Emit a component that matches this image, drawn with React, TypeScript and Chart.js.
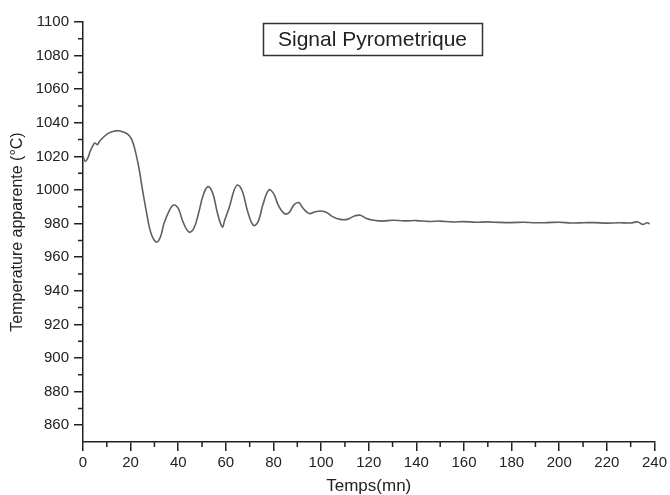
import React, { useEffect, useRef } from "react";
import { Chart, registerables } from "chart.js";

Chart.register(...registerables);

const chartTitle = "Signal Pyrometrique";
const xAxisTitle = "Temps(mn)";
const yAxisTitle = "Temperature apparente (°C)";

const xTickValues = [0, 20, 40, 60, 80, 100, 120, 140, 160, 180, 200, 220, 240];
const yTickValues = [860, 880, 900, 920, 940, 960, 980, 1000, 1020, 1040, 1060, 1080, 1100];

const times = [
  0, 1, 2, 3, 4, 5, 6, 7, 9, 11, 13, 15, 17, 19, 20.5, 22, 23.5, 25, 26.5, 28,
  29.5, 31, 32.5, 34, 36, 38, 40, 42, 44.5, 46.5, 48.5, 50.5, 52.5, 54.5, 56.5,
  58.5, 59.5, 61.5, 63.5, 65, 67, 69, 71.5, 73.5, 75.5, 78, 80, 82, 84.5, 86.5,
  88.5, 90.5, 92.5, 95, 97.5, 100, 102.5, 105, 108, 111, 114, 116.5, 119, 122,
  126, 130, 135, 140, 145, 150, 155, 160, 165, 170, 175, 180, 185, 190, 195,
  200, 205, 210, 215, 220, 225, 230, 233, 235, 237, 238,
];

const temps = [
  1020, 1017, 1019, 1023, 1026, 1028, 1027, 1029, 1032, 1034, 1035, 1035.3,
  1034.5, 1033, 1030, 1023, 1013, 1000, 988, 977, 971, 969, 972, 980, 987, 991,
  989, 981, 975, 977, 986, 997, 1002, 998, 986, 978, 982, 990, 1000, 1003, 999,
  988, 979, 981, 991, 1000, 998, 991, 986, 986.5, 991, 992.5, 989, 986, 987,
  987.5, 986.5, 984, 982.5, 982.5, 984.5, 985, 983, 982, 981.5, 982, 981.6,
  981.8, 981.3, 981.5, 981, 981.2, 980.8, 981, 980.7, 980.6, 980.8, 980.5,
  980.6, 980.8, 980.4, 980.5, 980.6, 980.3, 980.5, 980.4, 981, 979.5, 980.5,
  979.8,
];

const xMinorTicks = [10, 30, 50, 70, 90, 110, 130, 150, 170, 190, 210, 230];
const yMinorTicks = [870, 890, 910, 930, 950, 970, 990, 1010, 1030, 1050, 1070, 1090];

const FONT = "'Liberation Sans', Arial, sans-serif";
const INK = "#222";

const decorPlugin = {
  id: "decor",
  afterDraw(chart: any) {
    const ctx = chart.ctx;
    const xs = chart.scales.x;
    const ys = chart.scales.y;
    const area = chart.chartArea;
    ctx.save();
    ctx.strokeStyle = INK;
    ctx.lineWidth = 1.5;
    ctx.beginPath();
    xMinorTicks.forEach((v) => {
      const px = xs.getPixelForValue(v);
      ctx.moveTo(px, area.bottom);
      ctx.lineTo(px, area.bottom + 5);
    });
    yMinorTicks.forEach((v) => {
      const py = ys.getPixelForValue(v);
      ctx.moveTo(area.left, py);
      ctx.lineTo(area.left - 5, py);
    });
    ctx.stroke();
    // title box
    ctx.lineWidth = 1.5;
    ctx.strokeStyle = "#333";
    ctx.strokeRect(263.5, 23.5, 219, 32);
    ctx.fillStyle = INK;
    ctx.font = `21px ${FONT}`;
    ctx.textAlign = "center";
    ctx.textBaseline = "middle";
    ctx.fillText(chartTitle, 372.5, 40);
    ctx.restore();
  },
};

export default function App() {
  const canvasRef = useRef<HTMLCanvasElement | null>(null);

  useEffect(() => {
    document.body.style.margin = "0";
    document.body.style.background = "#fff";
    const canvas = canvasRef.current;
    if (!canvas) return;
    const chart = new Chart(canvas, {
      type: "line",
      data: {
        datasets: [
          {
            data: times.map((t, i) => ({ x: t, y: temps[i] })),
            borderColor: "#606060",
            borderWidth: 1.6,
            pointRadius: 0,
            tension: 0.4,
            fill: false,
          },
        ],
      },
      options: {
        animation: false,
        responsive: false,
        maintainAspectRatio: false,
        layout: { padding: { top: 22, right: 12, left: 0, bottom: 0 } },
        plugins: {
          legend: { display: false },
          tooltip: { enabled: false },
        },
        scales: {
          x: {
            type: "linear",
            min: 0,
            max: 240,
            afterBuildTicks: (s: any) => {
              s.ticks = xTickValues.map((v) => ({ value: v }));
            },
            afterFit: (s: any) => {
              s.height = 53;
            },
            border: { color: INK, width: 1.5 },
            grid: { drawOnChartArea: false, tickLength: 9, color: INK, lineWidth: 1.5 },
            ticks: {
              color: INK,
              font: { family: FONT, size: 15 },
              padding: 3,
              maxRotation: 0,
              autoSkip: false,
              callback: (v: any) => String(v),
            },
            title: {
              display: true,
              text: xAxisTitle,
              color: INK,
              font: { family: FONT, size: 17 },
              padding: { top: 0, bottom: -2 },
            },
          },
          y: {
            type: "linear",
            min: 850,
            max: 1100,
            afterBuildTicks: (s: any) => {
              s.ticks = yTickValues.map((v) => ({ value: v }));
            },
            afterFit: (s: any) => {
              s.width = 83;
            },
            border: { color: INK, width: 1.5 },
            grid: { drawOnChartArea: false, tickLength: 9, color: INK, lineWidth: 1.5 },
            ticks: {
              color: INK,
              font: { family: FONT, size: 15 },
              padding: 5,
              autoSkip: false,
              callback: (v: any) => String(v),
            },
            title: {
              display: true,
              text: yAxisTitle,
              color: INK,
              font: { family: FONT, size: 16 },
              padding: { top: 8, bottom: 0 },
            },
          },
        },
      },
      plugins: [decorPlugin],
    });
    return () => chart.destroy();
  }, []);

  return (
    <div style={{ width: 670, height: 495, background: "#fff" }}>
      <canvas ref={canvasRef} width={670} height={495} style={{ display: "block" }} />
    </div>
  );
}
